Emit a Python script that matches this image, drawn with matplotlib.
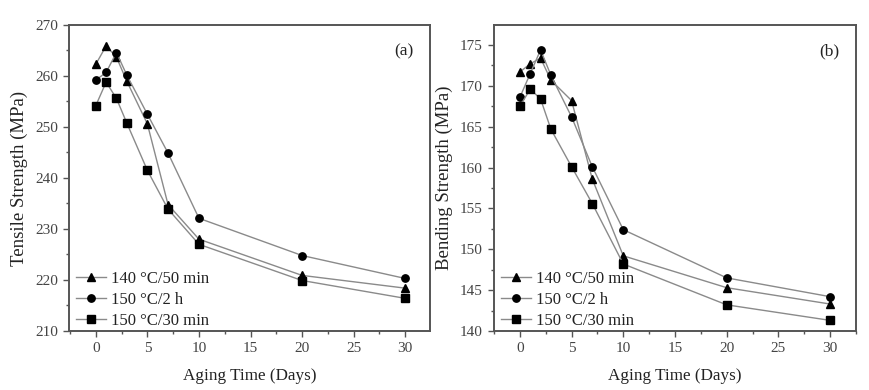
import matplotlib
matplotlib.use("Agg")
import matplotlib.pyplot as plt
from matplotlib.ticker import MultipleLocator

plt.rcParams['font.family'] = ['Liberation Serif', 'DejaVu Serif']

days = [0, 1, 2, 3, 5, 7, 10, 20, 30]
labels = ["140 °C/50 min", "150 °C/2 h", "150 °C/30 min"]
markers = ["^", "o", "s"]

tensile_140_50 = [262.3, 265.9, 263.7, 259.0, 250.6, 234.8, 228.0, 220.9, 218.4]
tensile_150_2h = [259.2, 260.7, 264.6, 260.2, 252.5, 244.9, 232.1, 224.8, 220.3]
tensile_150_30 = [254.2, 258.8, 255.6, 250.8, 241.5, 233.9, 227.0, 219.9, 216.4]

bending_140_50 = [171.7, 172.7, 173.4, 170.7, 168.2, 158.6, 149.2, 145.3, 143.3]
bending_150_2h = [168.6, 171.5, 174.4, 171.3, 166.2, 160.1, 152.4, 146.5, 144.2]
bending_150_30 = [167.5, 169.6, 168.4, 164.7, 160.1, 155.6, 148.2, 143.2, 141.3]

fig = plt.figure(figsize=(8.69, 3.90), dpi=100)
ax1 = fig.add_axes([0.0794, 0.1513, 0.4154, 0.7846])
ax2 = fig.add_axes([0.5685, 0.1513, 0.4165, 0.7846])

spine_col = "#555555"
line_col = "#8a8a8a"

def style(ax, ylim, ymaj, ymin, ylabel, tag):
    ax.set_ylim(*ylim)
    ax.xaxis.set_major_locator(MultipleLocator(5))
    ax.xaxis.set_minor_locator(MultipleLocator(2.5))
    ax.yaxis.set_major_locator(MultipleLocator(ymaj))
    ax.yaxis.set_minor_locator(MultipleLocator(ymin))
    ax.tick_params(which='major', direction='out', length=4, width=1, colors=spine_col,
                   labelcolor='#444444', labelsize=11, top=False, right=False, pad=4)
    ax.tick_params(which='minor', direction='out', length=2.5, width=1, colors=spine_col,
                   top=False, right=False)
    for s in ax.spines.values():
        s.set_color(spine_col)
        s.set_linewidth(1.4)
    ax.set_xlabel("Aging Time (Days)", fontsize=12.3, color='#222222', labelpad=9)
    ax.set_ylabel(ylabel, fontsize=13.5, color='#222222', labelpad=5)
    ax.text(0.955, 0.915, tag, transform=ax.transAxes, ha='right', va='center',
            fontsize=12.5, color='#222222')
    leg = ax.legend(loc='lower left', frameon=False, fontsize=12, handlelength=1.8,
                    handletextpad=0.3, borderaxespad=0.0, labelspacing=0.3,
                    bbox_to_anchor=(0.0, -0.014), markerscale=1.0)
    for t in leg.get_texts():
        t.set_color('#222222')

for ax, series in [(ax1, [tensile_140_50, tensile_150_2h, tensile_150_30]),
                   (ax2, [bending_140_50, bending_150_2h, bending_150_30])]:
    for vals, m, lab in zip(series, markers, labels):
        ax.plot(days, vals, color=line_col, linewidth=1.0, marker=m, markersize=5.3,
                markerfacecolor='black', markeredgecolor='black', label=lab)

style(ax1, (210, 270), 10, 5, "Tensile Strength (MPa)", "(a)")
style(ax2, (140, 177.45), 5, 2.5, "Bending Strength (MPa)", "(b)")
ax1.set_xlim(-2.6, 32.4)
ax2.set_xlim(-2.5, 32.5)

fig.savefig("out.png", dpi=100)
